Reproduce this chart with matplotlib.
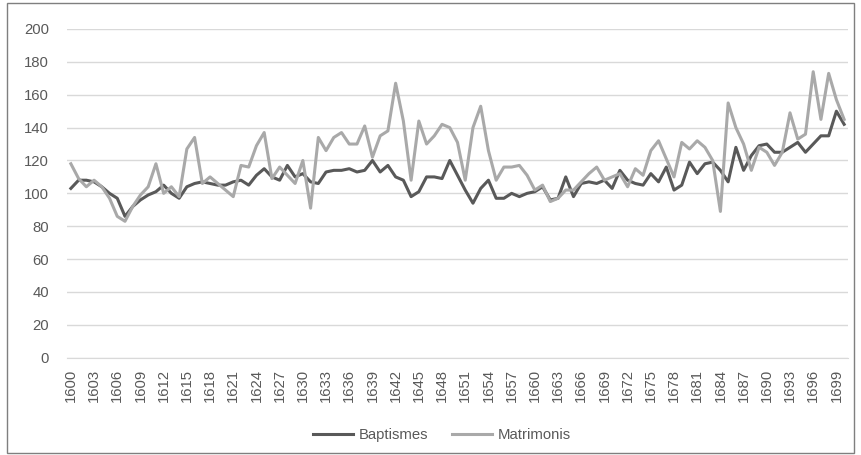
import matplotlib
matplotlib.use("Agg")
import matplotlib.pyplot as plt
from matplotlib.patches import Rectangle

# ---------------------------------------------------------
# DATA
# ---------------------------------------------------------
years = list(range(1600, 1701))

baptismes = [
    103, 108, 108, 107, 104, 100, 97, 86, 92, 96,      # 1600-1609
    99, 101, 105, 100, 97, 104, 106, 107, 106, 105,    # 1610-1619
    105, 107, 108, 105, 111, 115, 110, 108, 117, 110,  # 1620-1629
    112, 107, 106, 113, 114, 114, 115, 113, 114, 120,  # 1630-1639
    113, 117, 110, 108, 98, 101, 110, 110, 109, 120,   # 1640-1649
    111, 102, 94, 103, 108, 97, 97, 100, 98, 100,      # 1650-1659
    101, 104, 96, 97, 110, 98, 106, 107, 106, 108,     # 1660-1669
    103, 114, 108, 106, 105, 112, 107, 116, 102, 105,  # 1670-1679
    119, 112, 118, 119, 114, 107, 128, 114, 123, 129,  # 1680-1689
    130, 125, 125, 128, 131, 125, 130, 135, 135, 150,  # 1690-1699
    142,                                               # 1700
]

matrimonis = [
    118, 109, 104, 108, 104, 97, 86, 83, 92, 99,       # 1600-1609
    104, 118, 100, 104, 98, 127, 134, 106, 110, 106,   # 1610-1619
    102, 98, 117, 116, 129, 137, 109, 116, 111, 106,   # 1620-1629
    120, 91, 134, 126, 134, 137, 130, 130, 141, 122,   # 1630-1639
    135, 138, 167, 144, 108, 144, 130, 135, 142, 140,  # 1640-1649
    131, 108, 140, 153, 126, 108, 116, 116, 117, 111,  # 1650-1659
    102, 105, 95, 97, 102, 102, 107, 112, 116, 108,    # 1660-1669
    110, 112, 104, 115, 111, 126, 132, 121, 110, 131,  # 1670-1679
    127, 132, 128, 120, 89, 155, 140, 130, 114, 128,   # 1680-1689
    125, 117, 125, 149, 133, 136, 174, 145, 173, 157,  # 1690-1699
    145,                                               # 1700
]

series_names = ["Baptismes", "Matrimonis"]
y_ticks = list(range(0, 201, 20))

# ---------------------------------------------------------
# PLOT
# ---------------------------------------------------------
plt.rcParams["font.family"] = ["Liberation Sans", "DejaVu Sans"]
FS = 10.7

fig = plt.figure(figsize=(8.61, 4.55), dpi=100)
ax = fig.add_axes([67 / 861, 1 - 357.7 / 455, 781 / 861, 328.7 / 455])

x = list(range(len(years)))
ax.plot(x, baptismes, color="#595959", lw=2.2, label=series_names[0], solid_joinstyle="round")
ax.plot(x, matrimonis, color="#a9a9a9", lw=2.2, label=series_names[1], solid_joinstyle="round")

ax.set_xlim(-0.5, len(years) - 0.5)
ax.set_ylim(0, 200)
ax.set_yticks(y_ticks)
ax.grid(axis="y", color="#d9d9d9", lw=1)
ax.set_axisbelow(True)

tick_pos = [i for i, yr in enumerate(years) if (yr - 1600) % 3 == 0]
ax.set_xticks(tick_pos)
ax.set_xticklabels([str(years[i]) for i in tick_pos], rotation=90)

for side in ["top", "right", "left"]:
    ax.spines[side].set_visible(False)
ax.spines["bottom"].set_color("#d9d9d9")
ax.tick_params(axis="both", length=0, labelsize=FS, colors="#595959")
ax.tick_params(axis="y", pad=13)
ax.tick_params(axis="x", pad=8)

fig.legend(loc="center", bbox_to_anchor=(442 / 861, 1 - 435 / 455), ncol=2,
           frameon=False, fontsize=FS, handlelength=2.7, handletextpad=0.4,
           columnspacing=1.6, labelcolor="#595959")

# chart border
fig.patches.append(Rectangle((7 / 861, 2 / 455), 847 / 861, 450 / 455,
                             transform=fig.transFigure, fill=False,
                             edgecolor="#7f7f7f", lw=1))

fig.savefig("out.png", dpi=100)
